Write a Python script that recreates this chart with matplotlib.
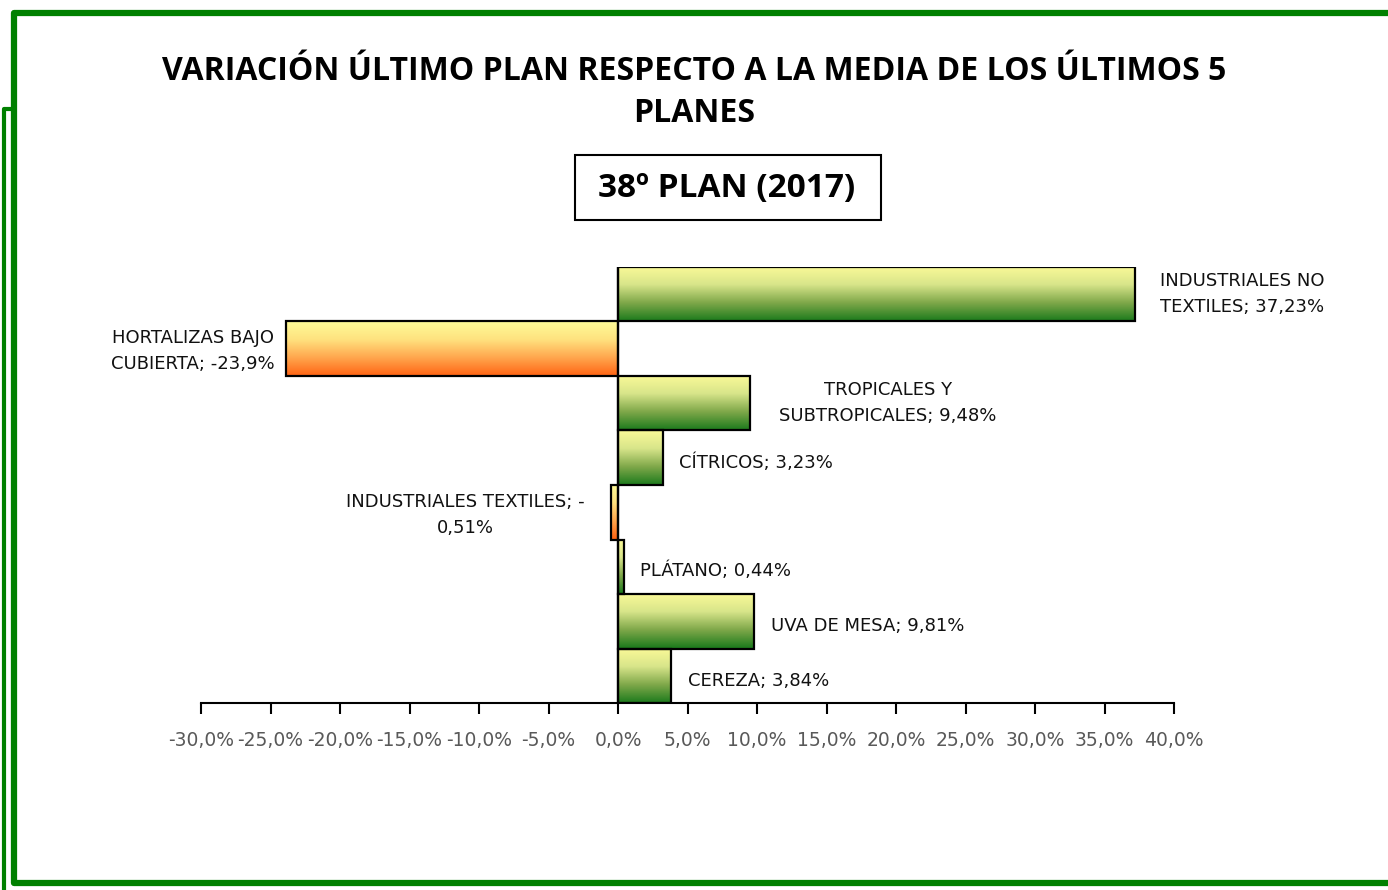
import matplotlib
matplotlib.use("Agg")
import matplotlib.pyplot as plt
import numpy as np
from matplotlib.colors import LinearSegmentedColormap
from matplotlib.lines import Line2D
from matplotlib.patches import Rectangle

plt.rcParams["font.family"] = ["Open Sans", "DejaVu Sans"]

categories = ["INDUSTRIALES NO TEXTILES", "HORTALIZAS BAJO CUBIERTA",
              "TROPICALES Y SUBTROPICALES", "CÍTRICOS", "INDUSTRIALES TEXTILES",
              "PLÁTANO", "UVA DE MESA", "CEREZA"]
values = [37.23, -23.9, 9.48, 3.23, -0.51, 0.44, 9.81, 3.84]
labels = ["INDUSTRIALES NO\nTEXTILES; 37,23%", "HORTALIZAS BAJO\nCUBIERTA; -23,9%",
          "TROPICALES Y\nSUBTROPICALES; 9,48%", "CÍTRICOS; 3,23%",
          "INDUSTRIALES TEXTILES; -\n0,51%", "PLÁTANO; 0,44%",
          "UVA DE MESA; 9,81%", "CEREZA; 3,84%"]
xticks = [-30, -25, -20, -15, -10, -5, 0, 5, 10, 15, 20, 25, 30, 35, 40]

# label offsets in pixels from bar end (dx, dy, ha)
offsets = [(107, 0, "center"), (-93, -2, "center"), (138, 0, "center"),
           (16, -5, "left"), (-146, -3, "center"), (16, -4, "left"),
           (17, -5, "left"), (17, -5, "left")]

green = LinearSegmentedColormap.from_list("g", ["#1c7a1c", "#7fa84a", "#d8e58a", "#fbfa98"])
orange = LinearSegmentedColormap.from_list("o", ["#ff6414", "#ffa64d", "#ffe27f", "#fdfb98"])
LABEL_FONT = ["DejaVu Sans"]

fig = plt.figure(figsize=(13.88, 8.9), dpi=100)
ax = fig.add_axes([201 / 1388, 1 - 703 / 890, (1174 - 201) / 1388, (703 - 267) / 890])

y = np.arange(len(categories))
grad = np.linspace(0, 1, 256).reshape(-1, 1)
for yi, v in zip(y, values):
    cmap = green if v >= 0 else orange
    x0, x1 = min(0, v), max(0, v)
    ax.imshow(grad, cmap=cmap, extent=(x0, x1, yi + 0.5, yi - 0.5),
              aspect="auto", origin="lower", zorder=1)
    ax.add_patch(Rectangle((x0, yi - 0.5), x1 - x0, 1.0, fill=False,
                           edgecolor="black", lw=1.6, zorder=2))

for yi, v, lab, (dx, dy, ha) in zip(y, values, labels, offsets):
    ax.annotate(lab, xy=(v, yi), xytext=(dx, dy), textcoords="offset pixels",
                ha=ha, va="center", fontsize=13, color="#111111", family=LABEL_FONT,
                linespacing=1.6, annotation_clip=False)

ax.set_xlim(-30, 40)
ax.set_ylim(len(categories) - 0.5, -0.5)
ax.set_xticks(xticks)
ax.set_xticklabels([f"{t:.1f}%".replace(".", ",") for t in xticks], family=LABEL_FONT)
ax.set_yticks([])
ax.tick_params(axis="x", direction="out", length=8, width=1.5, colors="black",
               labelcolor="#595959", labelsize=13.5, pad=12)
for s in ["top", "right", "left"]:
    ax.spines[s].set_visible(False)
ax.spines["bottom"].set_linewidth(1.5)
ax.axvline(0, color="black", lw=1.6, zorder=3)

fig.text(0.5, 1 - 72 / 890, "VARIACIÓN ÚLTIMO PLAN RESPECTO A LA MEDIA DE LOS ÚLTIMOS 5",
         ha="center", va="center", fontsize=23, fontweight="bold")
fig.text(0.5, 1 - 113 / 890, "PLANES", ha="center", va="center",
         fontsize=23, fontweight="bold")
fig.add_artist(Rectangle((575 / 1388, 1 - 220 / 890), 306 / 1388, 65 / 890,
                         transform=fig.transFigure, fill=False, edgecolor="black", lw=1.5))
fig.text(727 / 1388, 1 - 188 / 890, "38º PLAN (2017)", ha="center", va="center",
         fontsize=24, fontweight="bold")

# green frame
W, H = 1388, 890
fig.add_artist(Line2D([1 + 1 / W, 13.5 / W, 13.5 / W, 1 + 1 / W],
                      [1 - 13 / H, 1 - 13 / H, 1 - 883 / H, 1 - 883 / H],
                      transform=fig.transFigure, color="#008000", lw=4.5,
                      solid_joinstyle="round"))
fig.add_artist(Line2D([4 / W, 4 / W, 13 / W], [-0.01, 1 - 109 / H, 1 - 109 / H],
                      transform=fig.transFigure, color="#008000", lw=3))

fig.savefig("out.png", dpi=100)
